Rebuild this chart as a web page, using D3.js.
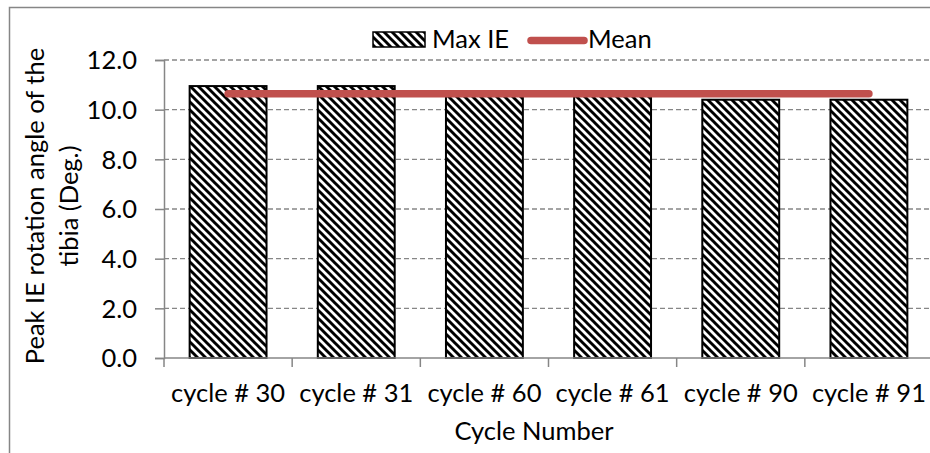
<!DOCTYPE html>
<html>
<head>
<meta charset="utf-8">
<script src="https://cdn.jsdelivr.net/npm/d3@7"></script>
<style>
  html, body { margin: 0; padding: 0; background: #fff; overflow: hidden; }
  svg { display: block; }
  text { font-family: Lato, "Open Sans", sans-serif; fill: #000; }
</style>
</head>
<body>
<svg id="chart" width="930" height="453"></svg>
<script>
// Peak internal/external rotation of the tibia per cycle
const categories = ["cycle # 30", "cycle # 31", "cycle # 60", "cycle # 61", "cycle # 90", "cycle # 91"];
const maxIE = [10.95, 10.95, 10.55, 10.55, 10.40, 10.40];
const meanIE = [10.64, 10.64, 10.64, 10.64, 10.64, 10.64];
const yTicks = [0, 2, 4, 6, 8, 10, 12];
const seriesNames = ["Max IE", "Mean"];
const yTitleLines = ["Peak IE rotation angle of the", "tibia (Deg.)"];
const xTitle = "Cycle Number";

const FONT = 25.5;
const axisGrey = "#868686";
const meanRed = "#C0504D";

const svg = d3.select("#chart");

// diagonal hatch fill for the bars
const defs = svg.append("defs");
const pat = defs.append("pattern")
  .attr("id", "hatch")
  .attr("patternUnits", "userSpaceOnUse")
  .attr("width", 8).attr("height", 8);
pat.append("rect").attr("width", 8).attr("height", 8).attr("fill", "#fff");
pat.append("path")
  .attr("d", "M-2,-2 L10,10 M-2,6 L2,10 M6,-2 L10,2")
  .attr("stroke", "#000").attr("stroke-width", 2.9).attr("fill", "none");

// outer chart frame
svg.append("rect")
  .attr("x", 9.5).attr("y", 7.5)
  .attr("width", 1000).attr("height", 600)
  .attr("fill", "none").attr("stroke", axisGrey).attr("stroke-width", 1.5);

const plot = { left: 164, right: 933, top: 60, bottom: 358 };

const x = d3.scaleBand()
  .domain(categories)
  .range([plot.left, plot.right])
  .paddingInner(0.4)
  .paddingOuter(0.2);

const y = d3.scaleLinear()
  .domain([0, 12])
  .range([plot.bottom, plot.top]);

// dashed horizontal gridlines
svg.append("g")
  .selectAll("line")
  .data(yTicks.filter(d => d > 0))
  .join("line")
  .attr("x1", plot.left).attr("x2", 940)
  .attr("y1", d => y(d)).attr("y2", d => y(d))
  .attr("stroke", axisGrey)
  .attr("stroke-width", 1.3)
  .attr("stroke-dasharray", "5,3");

// bars
svg.append("g")
  .selectAll("rect")
  .data(categories)
  .join("rect")
  .attr("x", d => x(d))
  .attr("width", x.bandwidth())
  .attr("y", (d, i) => y(maxIE[i]))
  .attr("height", (d, i) => y(0) - y(maxIE[i]))
  .attr("fill", "url(#hatch)")
  .attr("stroke", "#000")
  .attr("stroke-width", 2);

// y axis
const yAxis = svg.append("g")
  .attr("transform", `translate(${plot.left},0)`)
  .call(d3.axisLeft(y).tickValues(yTicks).tickFormat(d3.format(".1f")).tickSize(9).tickPadding(18));
yAxis.select(".domain").attr("stroke", axisGrey).attr("stroke-width", 1.5);
yAxis.selectAll(".tick line").attr("stroke", axisGrey).attr("stroke-width", 1.5);
yAxis.selectAll(".tick text")
  .attr("font-size", FONT)
  .attr("font-family", "Lato, 'Open Sans', sans-serif")
  .attr("dy", "0.35em");

// x axis: ticks on category boundaries
const xAxisG = svg.append("g").attr("transform", `translate(0,${plot.bottom})`);
xAxisG.append("line")
  .attr("x1", plot.left).attr("x2", 940)
  .attr("stroke", axisGrey).attr("stroke-width", 1.5);
const step = x.step();
const boundaries = categories.map((d, i) => plot.left + i * step);
xAxisG.selectAll(".xtick")
  .data(boundaries)
  .join("line")
  .attr("class", "xtick")
  .attr("x1", d => d).attr("x2", d => d)
  .attr("y1", 0).attr("y2", 9)
  .attr("stroke", axisGrey).attr("stroke-width", 1.5);
xAxisG.selectAll(".xlabel")
  .data(categories)
  .join("text")
  .attr("class", "xlabel")
  .attr("x", d => x(d) + x.bandwidth() / 2)
  .attr("y", 44)
  .attr("text-anchor", "middle")
  .attr("font-size", FONT)
  .text(d => d);

// mean line across the category centres
const line = d3.line()
  .x((d, i) => x(categories[i]) + x.bandwidth() / 2)
  .y(d => y(d));
svg.append("path")
  .datum(meanIE)
  .attr("d", line)
  .attr("fill", "none")
  .attr("stroke", meanRed)
  .attr("stroke-width", 7.5)
  .attr("stroke-linecap", "round");

// axis titles
svg.append("text")
  .attr("x", 534).attr("y", 440)
  .attr("text-anchor", "middle")
  .attr("font-size", FONT)
  .text(xTitle);

const yTitle = svg.append("text")
  .attr("transform", `translate(44,${(plot.top + plot.bottom) / 2 - 3}) rotate(-90)`)
  .attr("text-anchor", "middle")
  .attr("font-size", FONT);
yTitle.selectAll("tspan")
  .data(yTitleLines)
  .join("tspan")
  .attr("x", 0)
  .attr("dy", (d, i) => i === 0 ? 0 : 34)
  .text(d => d);

// legend
const legend = svg.append("g");
legend.append("rect")
  .attr("x", 373).attr("y", 32)
  .attr("width", 52).attr("height", 15)
  .attr("fill", "url(#hatch)")
  .attr("stroke", "#000").attr("stroke-width", 1.5);
legend.append("text")
  .attr("x", 432).attr("y", 48)
  .attr("font-size", FONT)
  .text(seriesNames[0]);
legend.append("line")
  .attr("x1", 531).attr("x2", 584)
  .attr("y1", 40.5).attr("y2", 40.5)
  .attr("stroke", meanRed).attr("stroke-width", 7.5)
  .attr("stroke-linecap", "round");
legend.append("text")
  .attr("x", 588).attr("y", 48)
  .attr("font-size", FONT)
  .text(seriesNames[1]);
</script>
</body>
</html>
